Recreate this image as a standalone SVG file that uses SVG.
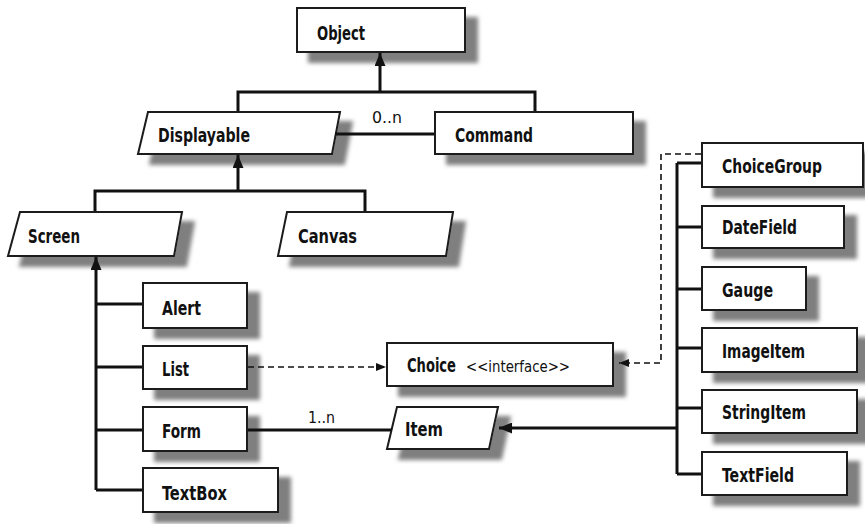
<svg xmlns="http://www.w3.org/2000/svg" width="865" height="524" viewBox="0 0 865 524">
<style>
.box{fill:#fff;stroke:#1a1a1a;stroke-width:2;filter:url(#sh)}
.t{font-family:'DejaVu Sans Condensed','DejaVu Sans',sans-serif;font-weight:bold;font-size:20px;fill:#111}
.n{font-family:'DejaVu Sans Condensed','DejaVu Sans',sans-serif;font-weight:normal;font-size:16px;fill:#111}
.c{fill:none;stroke:#111;stroke-width:3}
.d{fill:none;stroke:#111;stroke-width:1.6;stroke-dasharray:6,4}
</style>
<defs>
<filter id="sh" x="-10%" y="-10%" width="130%" height="150%">
<feDropShadow dx="12" dy="10" stdDeviation="2.2" flood-color="#7f7f7f" flood-opacity="1"/>
</filter>
<marker id="ah" viewBox="0 0 13 11" refX="13" refY="5.5" markerWidth="13" markerHeight="11" markerUnits="userSpaceOnUse" orient="auto">
<path d="M0,0 L13,5.5 L0,11 Z" fill="#111"/>
</marker>
<marker id="as" viewBox="0 0 10 8" refX="10" refY="4" markerWidth="10" markerHeight="8" markerUnits="userSpaceOnUse" orient="auto">
<path d="M0,0 L10,4 L0,8 Z" fill="#111"/>
</marker>
</defs>
<rect width="865" height="524" fill="#fff"/>
<g id="object"><rect class="box" x="297" y="8" width="168" height="44"/><text class="t" x="317" y="40" textLength="48" lengthAdjust="spacingAndGlyphs">Object</text></g>
<g id="displayable"><polygon class="box" points="148,112 340,112 332,154 138,154"/><text class="t" x="158" y="142" textLength="92" lengthAdjust="spacingAndGlyphs">Displayable</text></g>
<g id="command"><rect class="box" x="435" y="112" width="198" height="42"/><text class="t" x="455" y="142" textLength="78" lengthAdjust="spacingAndGlyphs">Command</text></g>
<g id="screen"><polygon class="box" points="20,212 182,212 174,256 8,256"/><text class="t" x="28" y="243" textLength="52" lengthAdjust="spacingAndGlyphs">Screen</text></g>
<g id="canvas"><polygon class="box" points="287,212 453,212 446,256 278,256"/><text class="t" x="298" y="243" textLength="59" lengthAdjust="spacingAndGlyphs">Canvas</text></g>
<g id="alert"><rect class="box" x="143" y="283" width="104" height="45"/><text class="t" x="162" y="315" textLength="39" lengthAdjust="spacingAndGlyphs">Alert</text></g>
<g id="list"><rect class="box" x="143" y="346" width="104" height="43"/><text class="t" x="162" y="376" textLength="27" lengthAdjust="spacingAndGlyphs">List</text></g>
<g id="form"><rect class="box" x="143" y="407" width="104" height="44"/><text class="t" x="162" y="438" textLength="39" lengthAdjust="spacingAndGlyphs">Form</text></g>
<g id="textbox"><rect class="box" x="143" y="468" width="135" height="44"/><text class="t" x="162" y="500" textLength="65" lengthAdjust="spacingAndGlyphs">TextBox</text></g>
<g id="choice"><rect class="box" x="387" y="343" width="226" height="43"/><text class="t" y="372"><tspan x="407" textLength="49" lengthAdjust="spacingAndGlyphs">Choice</tspan><tspan class="n" x="466" textLength="104" lengthAdjust="spacingAndGlyphs">&lt;&lt;interface&gt;&gt;</tspan></text></g>
<g id="item"><polygon class="box" points="397,407 498,407 489,449 387,449"/><text class="t" x="405" y="436" textLength="38" lengthAdjust="spacingAndGlyphs">Item</text></g>
<g id="choicegroup"><rect class="box" x="702" y="143" width="161" height="44"/><text class="t" x="722" y="173" textLength="100" lengthAdjust="spacingAndGlyphs">ChoiceGroup</text></g>
<g id="datefield"><rect class="box" x="702" y="206" width="142" height="42"/><text class="t" x="722" y="234" textLength="75" lengthAdjust="spacingAndGlyphs">DateField</text></g>
<g id="gauge"><rect class="box" x="702" y="267" width="104" height="43"/><text class="t" x="722" y="297" textLength="51" lengthAdjust="spacingAndGlyphs">Gauge</text></g>
<g id="imageitem"><rect class="box" x="702" y="328" width="155" height="44"/><text class="t" x="722" y="358" textLength="83" lengthAdjust="spacingAndGlyphs">ImageItem</text></g>
<g id="stringitem"><rect class="box" x="702" y="390" width="155" height="43"/><text class="t" x="722" y="419" textLength="84" lengthAdjust="spacingAndGlyphs">StringItem</text></g>
<g id="textfield"><rect class="box" x="702" y="452" width="145" height="43"/><text class="t" x="722" y="482" textLength="72" lengthAdjust="spacingAndGlyphs">TextField</text></g>
<g id="connectors">
<path class="c" d="M238,111 V92 H535 V111"/>
<path class="c" d="M380,92 V53" marker-end="url(#ah)"/>
<path class="c" d="M335,134 H434"/>
<path class="c" d="M95,211 V191 H365 V211"/>
<path class="c" d="M238,191 V155" marker-end="url(#ah)"/>
<path class="c" d="M96,490 V257" marker-end="url(#ah)"/>
<path class="c" d="M96,304 H142 M96,367 H142 M96,430 H142 M96,490 H142"/>
<path class="d" d="M248,367 H386" marker-end="url(#as)"/>
<path class="c" d="M248,430 H392"/>
<path class="c" d="M677,163 V474 M677,163 H701 M677,227 H701 M677,289 H701 M677,348 H701 M677,408 H701 M677,474 H701"/>
<path class="c" d="M677,428 H499" marker-end="url(#ah)"/>
<path class="d" d="M701,154 H661 V363 H619" marker-end="url(#as)"/>
<text class="n" x="372" y="123" textLength="30" lengthAdjust="spacingAndGlyphs">0..n</text>
<text class="n" x="308" y="423" textLength="27" lengthAdjust="spacingAndGlyphs">1..n</text>
</g>
</svg>
